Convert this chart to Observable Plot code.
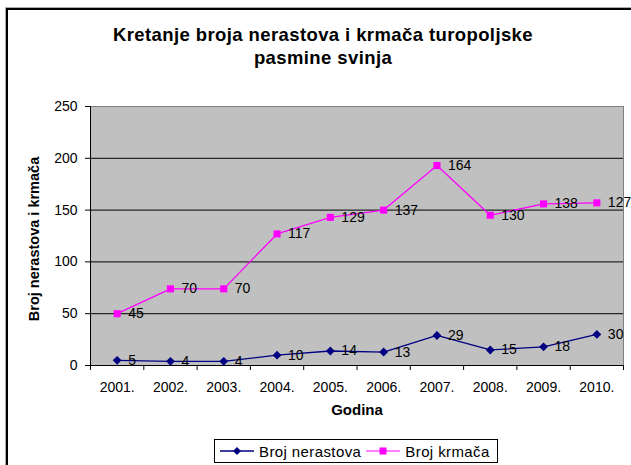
<!DOCTYPE html>
<html><head><meta charset="utf-8">
<script src="https://cdn.jsdelivr.net/npm/d3@7"></script>
<script src="https://cdn.jsdelivr.net/npm/@observablehq/plot@0.6"></script>
<style>
body{margin:0;background:#fff;font-family:"Liberation Sans",Arial,sans-serif;}
#wrap{position:relative;width:631px;height:465px;overflow:hidden;background:#fff;}
#border{position:absolute;left:6px;top:8px;width:700px;height:600px;border-left:2px solid #000;border-top:2px solid #000;box-sizing:border-box;box-shadow:-1px -1px 0 #aaa;}
#title{position:absolute;left:0;top:23px;width:646px;text-align:center;font-weight:bold;font-size:18.5px;letter-spacing:0.4px;line-height:23px;color:#000;}
#ytitle{position:absolute;left:-66px;top:231px;width:200px;height:16px;line-height:16px;text-align:center;font-weight:bold;font-size:14.5px;color:#000;transform:rotate(-90deg);transform-origin:50% 50%;white-space:nowrap;}
#chart{position:absolute;left:0;top:95px;}
#legend{position:absolute;left:214px;top:439px;width:284px;height:24px;border:1px solid #000;box-sizing:border-box;display:flex;align-items:center;font-size:15px;letter-spacing:0.4px;background:#fff;color:#000;padding-left:5px;white-space:nowrap;}
#legend svg{display:block;flex:none;}
#legend span{margin-left:5px;margin-right:5px;}
</style></head>
<body>
<div id="wrap">
  <div id="border"></div>
  <div id="title">Kretanje broja nerastova i krmača turopoljske<br>pasmine svinja</div>
  <div id="chart"></div>
  <div id="ytitle">Broj nerastova i krmača</div>
  <div id="legend">
    <svg width="34" height="12"><line x1="0" y1="6" x2="34" y2="6" stroke="#000080" stroke-width="1.5"/><path d="M17,2 L21,6 L17,10 L13,6Z" fill="#000080"/></svg><span>Broj nerastova</span>
    <svg width="34" height="12"><line x1="0" y1="6" x2="34" y2="6" stroke="#ff00ff" stroke-width="1.2"/><rect x="13.5" y="2.5" width="7" height="7" fill="#ff00ff"/></svg><span>Broj krmača</span>
  </div>
</div>
<script>
const years = [2001, 2002, 2003, 2004, 2005, 2006, 2007, 2008, 2009, 2010];
const nerastovi = [5, 4, 4, 10, 14, 13, 29, 15, 18, 30];
const krmace = [45, 70, 70, 117, 129, 137, 164, 130, 138, 127];
const seriesNames = ["Broj nerastova", "Broj krmača"];
const seriesColors = ["#000080", "#ff00ff"];
const seriesSymbols = ["diamond2", "square"];
const yTicks = [0, 50, 100, 150, 200, 250];

const rows = [];
years.forEach((y, i) => rows.push({year: y, value: nerastovi[i], series: seriesNames[0]}));
years.forEach((y, i) => rows.push({year: y, value: krmace[i], series: seriesNames[1]}));

const xDomain = [years[0] - 0.5, years[years.length - 1] + 0.5];
const bounds = years.map(y => y - 0.5).concat([years[years.length - 1] + 0.5]);
const yDomain = [yTicks[0], yTicks[yTicks.length - 1]];

const stackOpts = {x: "year", y: "value", z: "series"};

const chart = Plot.plot({
  width: 631,
  height: 335,
  marginTop: 11,
  marginBottom: 65,
  marginLeft: 90,
  marginRight: 8,
  style: {fontFamily: "'Liberation Sans', Arial, sans-serif", fontSize: "14px", color: "#000", background: "transparent", overflow: "visible"},
  x: {type: "linear", domain: xDomain, label: null},
  y: {domain: yDomain, label: null},
  color: {domain: seriesNames, range: seriesColors},
  symbol: {domain: seriesNames, range: seriesSymbols},
  marks: [
    Plot.frame({fill: "#c0c0c0", stroke: "#808080"}),
    Plot.gridY(yTicks.filter(v => v > yDomain[0] && v < yDomain[1]), {stroke: "#000", strokeOpacity: 1}),
    Plot.ruleY([yDomain[0]], {stroke: "#000"}),
    Plot.ruleX([xDomain[0]], {stroke: "#000"}),
    Plot.axisY(yTicks, {tickSize: 5, tickPadding: 8, fontSize: 14, label: null}),
    Plot.axisX(bounds, {tickSize: 5, tickFormat: () => "", label: null}),
    Plot.axisX(years, {tickSize: 0, tickPadding: 17, fontSize: 14, tickFormat: d => d + ".", label: null}),
    Plot.text(["Godina"], {frameAnchor: "bottom", dy: 49, fontWeight: "bold", fontSize: 15}),
    Plot.line(rows, Plot.stackY2({...stackOpts, stroke: "series", strokeWidth: 1.3})),
    Plot.dot(rows, Plot.stackY2({...stackOpts, fill: "series", symbol: "series", r: 4})),
    Plot.text(rows, Plot.stackY2({...stackOpts, text: d => String(d.value), textAnchor: "start", dx: 11, fontSize: 14, fill: "#000"}))
  ]
});
document.getElementById("chart").appendChild(chart);
</script>
</body></html>
